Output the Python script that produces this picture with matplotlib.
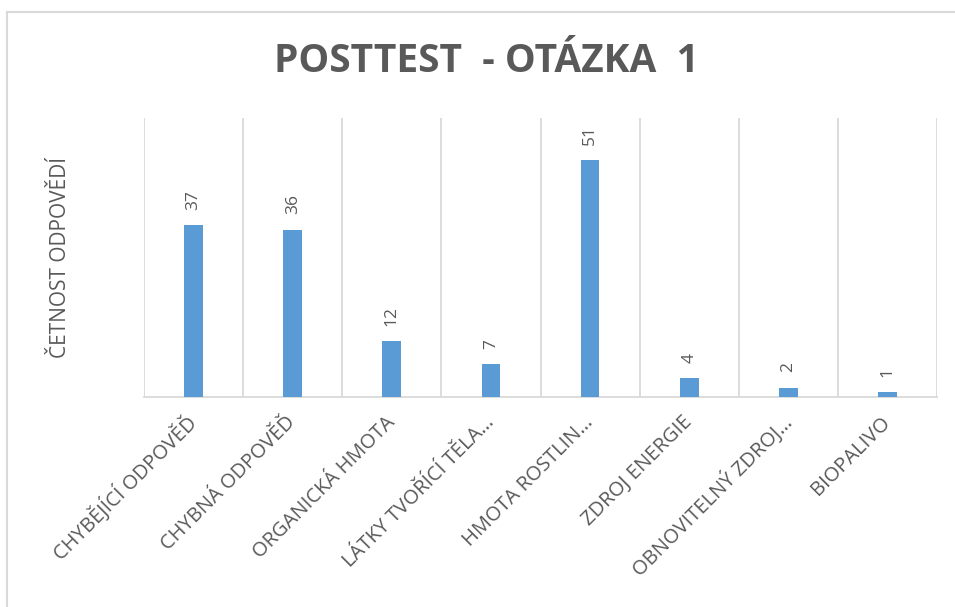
import matplotlib.pyplot as plt
from matplotlib.lines import Line2D

categories = [
    'CHYBĚJÍCÍ ODPOVĚĎ',
    'CHYBNÁ ODPOVĚĎ',
    'ORGANICKÁ HMOTA',
    'LÁTKY TVOŘÍCÍ TĚLA…',
    'HMOTA ROSTLIN…',
    'ZDROJ ENERGIE',
    'OBNOVITELNÝ ZDROJ…',
    'BIOPALIVO',
]
counts = [37, 36, 12, 7, 51, 4, 2, 1]

grey = '#595959'
bar_color = '#5B9BD5'
grid_color = '#D9D9D9'

plt.rcParams['font.family'] = ['Open Sans', 'DejaVu Sans']

fig = plt.figure(figsize=(9.55, 6.07), dpi=100)
ax = fig.add_axes([144 / 955, 1 - 397 / 607, 793 / 955, 279 / 607])

x = range(len(categories))
ax.bar(x, counts, width=0.19, color=bar_color, zorder=3)

for i, v in enumerate(counts):
    ax.annotate(str(v), (i, v), xytext=(0, 11), textcoords='offset points',
                rotation=90, ha='center', va='bottom', color=grey, fontsize=12.5)

ax.set_xlim(-0.5, len(categories) - 0.5)
ax.set_ylim(0, 60)
for b in range(len(categories) + 1):
    ax.axvline(b - 0.5, color=grid_color, lw=1.3, zorder=1)

for s in ['top', 'left', 'right']:
    ax.spines[s].set_visible(False)
ax.spines['bottom'].set_color(grid_color)
ax.spines['bottom'].set_linewidth(1.3)

ax.set_yticks([])
ax.set_xticks(list(x))
ax.set_xticklabels(categories, rotation=45, ha='right', va='center',
                   rotation_mode='anchor', color=grey, fontsize=14.5)
ax.tick_params(axis='x', length=0, pad=16)

fig.text(60 / 955, 1 - 257 / 607, 'ČETNOST ODPOVĚDÍ', rotation=90,
         ha='center', va='center', color=grey, fontsize=15)
fig.text(486 / 955, 1 - 62 / 607, 'POSTTEST  - OTÁZKA  1', ha='center',
         va='center', color=grey, fontsize=28, fontweight='bold')

# chart frame
fig.add_artist(Line2D([7 / 955, 1], [1 - 12 / 607] * 2, color=grid_color,
                      lw=1.5, transform=fig.transFigure))
fig.add_artist(Line2D([7 / 955] * 2, [0, 1 - 12 / 607], color=grid_color,
                      lw=1.5, transform=fig.transFigure))

fig.savefig('out.png', dpi=100)
